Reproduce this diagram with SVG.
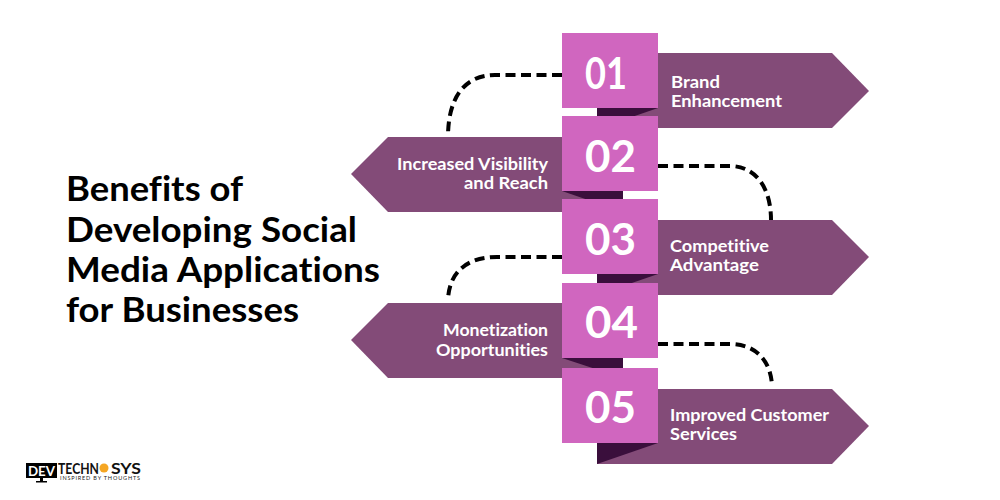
<svg xmlns="http://www.w3.org/2000/svg" width="1000" height="500" viewBox="0 0 1000 500">
<style>
text{font-family:"Lato","Liberation Sans",sans-serif;font-variant-ligatures:none}
.rib{fill:#834b78}
.fold{fill:#3a0f3c}
.sq{fill:#d066bf}
.num{fill:#fff;font-size:43px;font-weight:700}
.lab{fill:#fff;font-size:17.5px;font-weight:700}
.ttl{fill:#000;font-size:34px;font-weight:700}
.con{fill:none;stroke:#000;stroke-width:4;stroke-dasharray:10 5.500}
</style>
<rect width="1000" height="500" fill="#fff"/>
<g id="title">
<text class="ttl" x="66" y="201" textLength="177" lengthAdjust="spacingAndGlyphs">Benefits of</text>
<text class="ttl" x="66" y="242" textLength="291" lengthAdjust="spacingAndGlyphs">Developing Social</text>
<text class="ttl" x="66" y="282" textLength="314" lengthAdjust="spacingAndGlyphs">Media Applications</text>
<text class="ttl" x="66" y="322" textLength="233" lengthAdjust="spacingAndGlyphs">for Businesses</text>
</g>
<g id="connectors">
<path class="con" d="M562 75H495C465 75 448 97 448 137"/>
<path class="con" d="M658 166H730C755 166 771 187 771 220"/>
<path class="con" d="M562 257H497C467 257 449 272 448 300"/>
<path class="con" d="M658 344H730C755 344 771 360 772 386"/>
</g>
<g id="node-01">
<polygon class="rib" points="597,53 832,53 869,91 832,128 597,128"/>
<polygon class="fold" points="597,108 658,108 597,129"/>
<rect class="sq" x="562" y="33" width="96" height="75"/>
<text class="num" x="585" y="89" textLength="42" lengthAdjust="spacingAndGlyphs">01</text>
<text class="lab" x="671" y="87.500" textLength="49" lengthAdjust="spacingAndGlyphs">Brand</text>
<text class="lab" x="671" y="106.500" textLength="111" lengthAdjust="spacingAndGlyphs">Enhancement</text>
</g>
<g id="node-02">
<polygon class="rib" points="623,137 388,137 351,174 388,212 623,212"/>
<polygon class="fold" points="623,191 562,191 623,212"/>
<rect class="sq" x="562" y="116" width="96" height="75"/>
<text class="num" x="585" y="172" textLength="51" lengthAdjust="spacingAndGlyphs">02</text>
<text class="lab" x="397" y="170" textLength="151" lengthAdjust="spacingAndGlyphs">Increased Visibility</text>
<text class="lab" x="464" y="189" textLength="84" lengthAdjust="spacingAndGlyphs">and Reach</text>
</g>
<g id="node-03">
<polygon class="rib" points="597,220 832,220 869,257 832,295 597,295"/>
<polygon class="fold" points="597,274 658,274 597,295"/>
<rect class="sq" x="562" y="199" width="96" height="75"/>
<text class="num" x="585" y="255" textLength="51" lengthAdjust="spacingAndGlyphs">03</text>
<text class="lab" x="670" y="252" textLength="99" lengthAdjust="spacingAndGlyphs">Competitive</text>
<text class="lab" x="670" y="271" textLength="89" lengthAdjust="spacingAndGlyphs">Advantage</text>
</g>
<g id="node-04">
<polygon class="rib" points="623,303 388,303 351,340 388,378 623,378"/>
<polygon class="fold" points="623,358 562,358 623,378"/>
<rect class="sq" x="562" y="283" width="96" height="75"/>
<text class="num" x="585" y="338" textLength="53" lengthAdjust="spacingAndGlyphs">04</text>
<text class="lab" x="443" y="336" textLength="105" lengthAdjust="spacingAndGlyphs">Monetization</text>
<text class="lab" x="436" y="355.500" textLength="112" lengthAdjust="spacingAndGlyphs">Opportunities</text>
</g>
<g id="node-05">
<polygon class="rib" points="597,389 832,389 869,426 832,464 597,464"/>
<polygon class="fold" points="597,443 658,443 597,464"/>
<rect class="sq" x="562" y="368" width="96" height="75"/>
<text class="num" x="585" y="423" textLength="51" lengthAdjust="spacingAndGlyphs">05</text>
<text class="lab" x="670" y="421" textLength="159" lengthAdjust="spacingAndGlyphs">Improved Customer</text>
<text class="lab" x="670" y="440" textLength="67" lengthAdjust="spacingAndGlyphs">Services</text>
</g>
<g id="logo">
<rect x="26" y="463" width="31" height="15" fill="#000"/>
<rect x="40" y="478" width="3" height="3" fill="#000"/>
<rect x="36" y="481" width="11" height="1.500" fill="#000"/>
<text x="28" y="476" font-size="13" font-weight="700" fill="#fff" textLength="27" lengthAdjust="spacingAndGlyphs">DEV</text>
<text x="58" y="474" font-size="15" font-weight="700" fill="#111" textLength="41" lengthAdjust="spacingAndGlyphs">TECHN</text>
<circle cx="104" cy="468" r="4.500" fill="#f5a623"/>
<text x="111" y="474" font-size="15" font-weight="700" fill="#111" textLength="30" lengthAdjust="spacingAndGlyphs">SYS</text>
<text x="60" y="480" font-size="5.500" font-weight="400" fill="#222" textLength="80" lengthAdjust="spacing">INSPIRED BY THOUGHTS</text>
</g>
</svg>
